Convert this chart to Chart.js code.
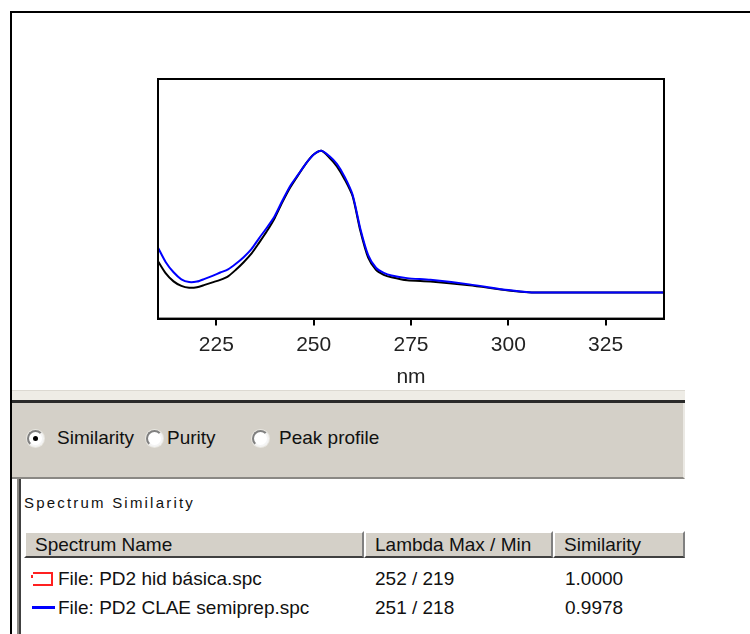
<!DOCTYPE html>
<html>
<head>
<meta charset="utf-8">
<script src="https://cdn.jsdelivr.net/npm/chart.js@4/dist/chart.umd.min.js"></script>
<style>
  html, body { margin: 0; padding: 0; background: #fff; }
  body { width: 750px; height: 634px; position: relative; overflow: hidden; font-family: "Liberation Sans", Arial, sans-serif; color: #111; }
  #chartBox { position: absolute; left: 0; top: 0; width: 750px; height: 392px; }
  .abs { position: absolute; }
  #frame { left: 10px; top: 11px; width: 740px; height: 623px; border-top: 2px solid #000; border-left: 2px solid #000; box-sizing: border-box; z-index: 5; pointer-events: none; }
  #sepLight { left: 12px; top: 390px; width: 673px; height: 11px; background: #eeece6; border-top: 1px solid #dcd9d2; box-sizing: border-box; }
  #sepDark { left: 12px; top: 400px; width: 673px; height: 3px; background: #2a2a2a; }
  #panel { left: 12px; top: 403px; width: 673px; height: 76px; background: #d4d0c8; border-bottom: 2px solid #8a8884; border-right: 2px solid #ebe9e4; box-sizing: border-box; }
  .radio { width: 17px; height: 17px; border-radius: 50%; background: #fff; border: 2px solid; border-color: #808080 #f4f4f4 #f4f4f4 #808080; box-sizing: border-box; box-shadow: 0 0 0 1px #e8e6e0; }
  .dot { left: 4px; top: 4px; width: 5px; height: 5px; border-radius: 50%; background: #000; }
  .rlabel { font-size: 19px; line-height: 22px; white-space: nowrap; }
  #list { left: 17px; top: 479px; width: 668px; height: 160px; background: #fff; border-left: 2px solid #8a8884; box-sizing: border-box; }
  #list2 { left: 19px; top: 479px; width: 2px; height: 160px; background: #404040; }
  #title2 { left: 24px; top: 493px; font-size: 15px; letter-spacing: 2.2px; line-height: 20px; white-space: nowrap; }
  #hdr { left: 24px; top: 531px; width: 661px; height: 27px; background: #d4d0c8; }
  .hcell { position: absolute; top: 0; height: 27px; box-sizing: border-box; border-top: 2px solid #fff; border-left: 2px solid #fff; border-bottom: 2px solid #404040; border-right: 2px solid #808080; font-size: 19px; line-height: 23px; padding-left: 9px; white-space: nowrap; }
  .cell { position: absolute; font-size: 19px; line-height: 22px; white-space: nowrap; }
</style>
</head>
<body>
<div id="chartBox"><canvas id="c" width="750" height="392"></canvas></div>
<div id="frame" class="abs"></div>
<div id="sepLight" class="abs"></div>
<div id="sepDark" class="abs"></div>
<div id="panel" class="abs"></div>
<div id="radios"></div>
<div id="list" class="abs"></div>
<div id="list2" class="abs"></div>
<div id="title2" class="abs"></div>
<div id="hdr" class="abs"></div>
<div id="rows"></div>

<script>
// ---------- data ----------
const wavelengthsNm = [210, 212, 214, 216, 218, 220, 222, 224, 226, 228, 230, 232, 234, 236, 238, 240, 242, 244, 246, 248, 250, 252, 254, 256, 258, 260, 262, 264, 266, 268, 270, 274, 280, 290, 300, 306, 310, 320, 330, 340];
// PD2 CLAE semiprep (blue) – arbitrary absorbance units
const semiprepValues = [70.5, 56, 46, 39, 36.3, 36.8, 39.5, 42.5, 45.8, 49, 54.5, 61, 69, 80, 90.5, 102, 117.5, 132, 143, 154, 163, 166.7, 161.5, 153.5, 140.5, 123, 89, 63, 50.5, 45.5, 42.8, 40.2, 38.5, 34, 28.3, 26, 26, 26, 26, 26];
// PD2 hid básica (black)
const basicaValues = [57, 45, 37, 32.5, 30.7, 31.2, 33.5, 36, 38.5, 42, 48.5, 56, 64.5, 75.5, 87, 100, 116, 130.5, 142.5, 154, 163, 166.7, 160, 151, 138, 121.5, 87, 60.5, 48.5, 43.5, 41, 38, 36.8, 33, 28, 26, 26, 26, 26, 26];
const xTickValues = [225, 250, 275, 300, 325];
const xRange = [210, 340];
const yRange = [0, 238];
const axisTitle = "nm";

const radioLabels = ["Similarity", "Purity", "Peak profile"];
const tableTitle = "Spectrum Similarity";
const tableColumns = ["Spectrum Name", "Lambda Max / Min", "Similarity"];
const spectrumNames = ["File: PD2 hid básica.spc", "File: PD2 CLAE semiprep.spc"];
const lambdaMaxMin = ["252 / 219", "251 / 218"];
const similarityValues = ["1.0000", "0.9978"];

// ---------- chart ----------
const toPoints = (xs, ys) => xs.map((x, i) => ({ x: x, y: ys[i] }));

const framePlugin = {
  id: 'frame',
  afterDatasetsDraw(chart) {
    const a = chart.chartArea, ctx = chart.ctx;
    ctx.save();
    ctx.strokeStyle = '#000';
    ctx.lineWidth = 2;
    ctx.strokeRect(a.left, a.top, a.right - a.left, a.bottom - a.top);
    ctx.restore();
  }
};
const bgPlugin = {
  id: 'bg',
  beforeDraw(chart) {
    const ctx = chart.ctx;
    ctx.save(); ctx.fillStyle = '#fff'; ctx.fillRect(0, 0, chart.width, chart.height); ctx.restore();
  }
};

new Chart(document.getElementById('c'), {
  type: 'line',
  data: {
    datasets: [
      { label: spectrumNames[1], data: toPoints(wavelengthsNm, semiprepValues), borderColor: '#0000ff', borderWidth: 2, pointRadius: 0, tension: 0.25, order: 0 },
      { label: spectrumNames[0], data: toPoints(wavelengthsNm, basicaValues), borderColor: '#000000', borderWidth: 2, pointRadius: 0, tension: 0.25, order: 1 }
    ]
  },
  options: {
    responsive: false,
    animation: false,
    devicePixelRatio: 1,
    layout: { padding: { left: 158, right: 86, top: 79, bottom: 2 } },
    plugins: { legend: { display: false }, tooltip: { enabled: false } },
    scales: {
      x: {
        type: 'linear', min: xRange[0], max: xRange[1],
        afterBuildTicks(scale) { scale.ticks = xTickValues.map(v => ({ value: v })); },
        grid: { display: true, drawOnChartArea: false, drawTicks: true, tickLength: 7, color: '#000', lineWidth: 2 },
        border: { display: true, color: '#000', width: 2 },
        ticks: { padding: 7, color: '#222', font: { family: 'Liberation Sans', size: 21 }, maxRotation: 0, autoSkip: false },
        title: { display: true, text: axisTitle, color: '#222', font: { family: 'Liberation Sans', size: 21 }, padding: { top: 0, bottom: 0 } }
      },
      y: { display: false, min: yRange[0], max: yRange[1] }
    }
  },
  plugins: [bgPlugin, framePlugin]
});

// ---------- lower panel (HTML) ----------
const radioX = [35, 154, 260];
const radioTextX = [57, 167, 279];
const radiosEl = document.getElementById('radios');
radioLabels.forEach((t, i) => {
  const r = document.createElement('div');
  r.className = 'abs radio';
  r.style.left = (radioX[i] - 8) + 'px';
  r.style.top = (438 - 8) + 'px';
  if (i === 0) { const d = document.createElement('div'); d.className = 'abs dot'; r.appendChild(d); }
  radiosEl.appendChild(r);
  const l = document.createElement('div');
  l.className = 'abs rlabel';
  l.style.left = radioTextX[i] + 'px';
  l.style.top = (438 - 11) + 'px';
  l.textContent = t;
  radiosEl.appendChild(l);
});
document.getElementById('title2').textContent = tableTitle;

const colX = [0, 340, 529];
const colW = [340, 189, 132];
const hdr = document.getElementById('hdr');
tableColumns.forEach((t, i) => {
  const c = document.createElement('div');
  c.className = 'hcell';
  c.style.left = colX[i] + 'px';
  c.style.width = colW[i] + 'px';
  c.textContent = t;
  hdr.appendChild(c);
});

const rowsEl = document.getElementById('rows');
const rowY = [579, 608];
const textX = [58, 375, 565];
spectrumNames.forEach((name, r) => {
  const m = document.createElement('div');
  m.className = 'abs';
  if (r === 0) {
    m.style.cssText = 'left:33px;top:' + (rowY[r] - 7) + 'px;width:20px;height:14px;border:2px solid #ff2020;border-left:none;box-sizing:border-box;';
    const tick = document.createElement('div');
    tick.className = 'abs';
    tick.style.cssText = 'left:31px;top:' + (rowY[r] - 4) + 'px;width:2px;height:3px;background:#ff2020;';
    rowsEl.appendChild(tick);
  } else {
    m.style.cssText = 'left:32px;top:' + (rowY[r] - 2) + 'px;width:23px;height:3px;background:#0000ff;';
  }
  rowsEl.appendChild(m);
  [name, lambdaMaxMin[r], similarityValues[r]].forEach((t, i) => {
    const c = document.createElement('div');
    c.className = 'cell';
    c.style.left = textX[i] + 'px';
    c.style.top = (rowY[r] - 11) + 'px';
    c.textContent = t;
    rowsEl.appendChild(c);
  });
});
</script>
</body>
</html>
